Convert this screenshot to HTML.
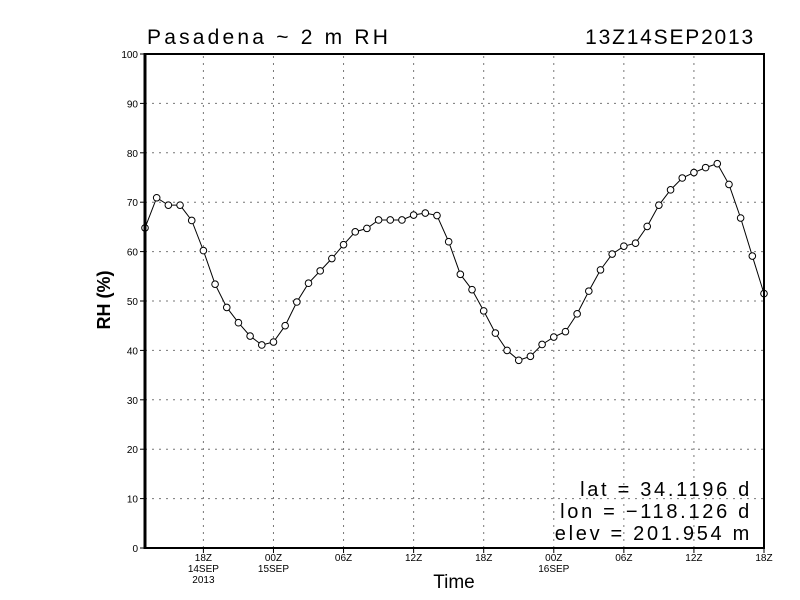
<!DOCTYPE html>
<html><head><meta charset="utf-8"><style>
html,body{margin:0;padding:0;background:#fff;}
svg{display:block;font-family:"Liberation Sans",sans-serif;}
</style></head><body>
<svg id="chart" width="800" height="600" viewBox="0 0 800 600">
<rect width="800" height="600" fill="#fff"/>
<text x="147" y="44" font-size="21" letter-spacing="3.2">Pasadena ~ 2 m RH</text>
<text x="755" y="44" font-size="21" letter-spacing="1.8" text-anchor="end">13Z14SEP2013</text>
<g id="grid"></g>
<g id="yticks"></g>
<g id="xticks"></g>
<g id="series"></g>
<rect x="145" y="54" width="619" height="494" fill="none" stroke="#000" stroke-width="2"/>
<line x1="145" y1="53" x2="145" y2="549" stroke="#000" stroke-width="3"/>
<text transform="translate(110,300) rotate(-90)" font-size="18" text-anchor="middle" font-weight="bold">RH (%)</text>
<text x="454" y="588" font-size="19" text-anchor="middle">Time</text>
<g font-size="20" text-anchor="end" letter-spacing="2.7">
<text x="752" y="496">lat = 34.1196 d</text>
<text x="752" y="518">lon = −118.126 d</text>
<text x="752" y="540">elev = 201.954 m</text>
</g>
</svg>
<script>
const rhValues = [64.8,70.9,69.4,69.4,66.3,60.2,53.4,48.7,45.6,42.9,41.1,41.7,45.0,49.8,53.6,56.1,58.6,61.4,64.0,64.7,66.4,66.4,66.4,67.4,67.8,67.3,62.0,55.4,52.3,48.0,43.5,40.0,38.0,38.8,41.2,42.7,43.8,47.4,52.0,56.3,59.5,61.1,61.7,65.1,69.4,72.5,74.9,76.0,77.0,77.8,73.6,66.8,59.1,51.5];
const yTicks = [0,10,20,30,40,50,60,70,80,90,100];
const xTickHours = [5,11,17,23,29,35,41,47,53];
const xTickLabels = ["18Z","00Z","06Z","12Z","18Z","00Z","06Z","12Z","18Z"];
const xTickSub1 = ["14SEP","15SEP","","","","16SEP","","",""];
const xTickSub2 = ["2013","","","","","","","",""];
const NS="http://www.w3.org/2000/svg";
const X0=145,X1=764,Y0=548,Y1=54,HMAX=53;
const xs=h=>X0+(X1-X0)*h/HMAX;
const ys=v=>Y0-(Y0-Y1)*v/100;
function mk(tag,attrs,parent){const e=document.createElementNS(NS,tag);for(const k in attrs)e.setAttribute(k,attrs[k]);parent.appendChild(e);return e;}
const grid=document.getElementById('grid'),yt=document.getElementById('yticks'),xt=document.getElementById('xticks'),ser=document.getElementById('series');
yTicks.forEach(v=>{
  const y=ys(v);
  if(v>0&&v<100){const l=mk('line',{x1:X0,x2:X1,y1:y,y2:y,stroke:'#777','stroke-width':1,'stroke-dasharray':'2,5'},grid);
  
  }
  const t=mk('line',{x1:X0-5,x2:X0,y1:y,y2:y,stroke:'#000','stroke-width':1},yt);
  
  
  const tx=mk('text',{x:X0-7,y:y+4,'font-size':10,'text-anchor':'end'},yt);tx.textContent=v;
  
  
});
xTickHours.forEach((h,i)=>{
  const x=xs(h);
  if(h<HMAX){const l=mk('line',{x1:x,x2:x,y1:Y0,y2:Y1,stroke:'#777','stroke-width':1,'stroke-dasharray':'2,5'},grid);
  
  }
  const t=mk('line',{x1:x,x2:x,y1:Y0,y2:Y0+5,stroke:'#000','stroke-width':1},xt);
  
  
  [xTickLabels[i],xTickSub1[i],xTickSub2[i]].forEach((s,j)=>{if(!s)return;
    const tx=mk('text',{x:x,y:Y0+13+j*11,'font-size':10,'text-anchor':'middle'},xt);tx.textContent=s;
    
    });
});
const pts=rhValues.map((v,i)=>xs(i)+','+ys(v)).join(' ');
const pl=mk('polyline',{points:pts,fill:'none',stroke:'#000','stroke-width':1},ser);


rhValues.forEach((v,i)=>{
  const c=mk('circle',{cx:xs(i),cy:ys(v),r:3.3,fill:'#fff',stroke:'#000','stroke-width':1},ser);
  
  
});
</script>
</body></html>
